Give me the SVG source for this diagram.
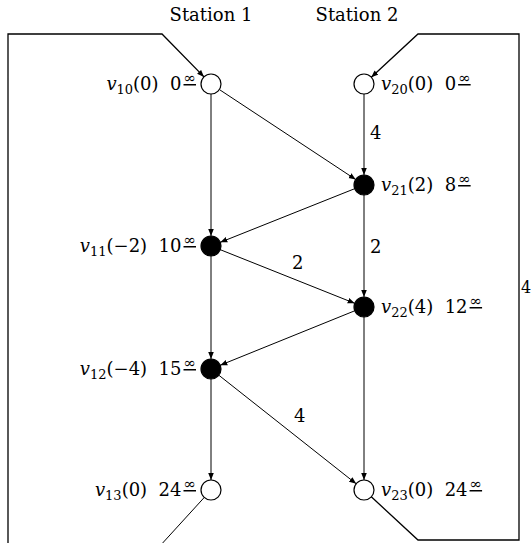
<svg xmlns="http://www.w3.org/2000/svg" width="531" height="543" viewBox="0 0 531 543">
<style>
text{font-family:"DejaVu Serif","Liberation Serif",serif;font-size:18px;fill:#000}
.it{font-style:italic}
.sub{font-size:13px}
.sup{font-size:15px;text-decoration:underline}
.open{fill:#fff;stroke:#000;stroke-width:1.2}
.full{fill:#000;stroke:#000;stroke-width:1.2}
.e{fill:none;stroke:#000;stroke-width:1}
.f{fill:none;stroke:#000;stroke-width:1.3}
</style>
<defs>
<marker id="ah" viewBox="0 0 10 10" refX="10" refY="5" markerWidth="7" markerHeight="7" markerUnits="userSpaceOnUse" orient="auto">
<path d="M0,1 L10,5 L0,9 Z" fill="#000"/>
</marker>
</defs>
<rect width="531" height="543" fill="#fff"/>
<text x="211" y="21" text-anchor="middle">Station 1</text>
<text x="357" y="21" text-anchor="middle">Station 2</text>
<g id="connectors">
<path class="f" d="M8,543 L8,34 L162,34 L204,76.9" marker-end="url(#ah)"/>
<path class="f" d="M371.3,496.8 L418,540 L519,540 L519,34 L418,34 L371.3,77.2" marker-end="url(#ah)"/>
<path class="e" d="M204.3,497.4 L159,547"/>
<path class="e" d="M211,94 L211,236" marker-end="url(#ah)"/>
<path class="e" d="M211,256 L211,359" marker-end="url(#ah)"/>
<path class="e" d="M211,379 L211,480" marker-end="url(#ah)"/>
<path class="e" d="M364,94 L364,175" marker-end="url(#ah)"/>
<path class="e" d="M364,195 L364,297" marker-end="url(#ah)"/>
<path class="e" d="M364,317 L364,480" marker-end="url(#ah)"/>
<path class="e" d="M219.3,89.5 L355.7,179.5" marker-end="url(#ah)"/>
<path class="e" d="M354.7,188.7 L220.3,242.3" marker-end="url(#ah)"/>
<path class="e" d="M220.3,249.7 L354.7,303.3" marker-end="url(#ah)"/>
<path class="e" d="M354.7,310.8 L220.3,365.2" marker-end="url(#ah)"/>
<path class="e" d="M218.8,375.2 L356.2,483.8" marker-end="url(#ah)"/>
<text x="370" y="139">4</text>
<text x="370" y="253">2</text>
<text x="292" y="269">2</text>
<text x="294" y="422">4</text>
<text x="521" y="293" style="font-size:16px">4</text>
</g>
<g id="v10">
<circle class="open" cx="211" cy="84" r="10"/>
<text x="196" y="90" text-anchor="end"><tspan class="it">v</tspan><tspan class="sub" dy="4">10</tspan><tspan dy="-4">(0)&#160;&#160;0</tspan><tspan class="sup" dx="2" dy="-7">∞</tspan></text>
</g>
<g id="v20">
<circle class="open" cx="364" cy="84" r="10"/>
<text x="381" y="90"><tspan class="it">v</tspan><tspan class="sub" dy="4">20</tspan><tspan dy="-4">(0)&#160;&#160;0</tspan><tspan class="sup" dx="2" dy="-7">∞</tspan></text>
</g>
<g id="v21">
<circle class="full" cx="364" cy="185" r="10"/>
<text x="381" y="191"><tspan class="it">v</tspan><tspan class="sub" dy="4">21</tspan><tspan dy="-4">(2)&#160;&#160;8</tspan><tspan class="sup" dx="2" dy="-7">∞</tspan></text>
</g>
<g id="v11">
<circle class="full" cx="211" cy="246" r="10"/>
<text x="196" y="252" text-anchor="end"><tspan class="it">v</tspan><tspan class="sub" dy="4">11</tspan><tspan dy="-4">(−2)&#160;&#160;10</tspan><tspan class="sup" dx="2" dy="-7">∞</tspan></text>
</g>
<g id="v22">
<circle class="full" cx="364" cy="307" r="10"/>
<text x="381" y="313"><tspan class="it">v</tspan><tspan class="sub" dy="4">22</tspan><tspan dy="-4">(4)&#160;&#160;12</tspan><tspan class="sup" dx="2" dy="-7">∞</tspan></text>
</g>
<g id="v12">
<circle class="full" cx="211" cy="369" r="10"/>
<text x="196" y="375" text-anchor="end"><tspan class="it">v</tspan><tspan class="sub" dy="4">12</tspan><tspan dy="-4">(−4)&#160;&#160;15</tspan><tspan class="sup" dx="2" dy="-7">∞</tspan></text>
</g>
<g id="v13">
<circle class="open" cx="211" cy="490" r="10"/>
<text x="196" y="496" text-anchor="end"><tspan class="it">v</tspan><tspan class="sub" dy="4">13</tspan><tspan dy="-4">(0)&#160;&#160;24</tspan><tspan class="sup" dx="2" dy="-7">∞</tspan></text>
</g>
<g id="v23">
<circle class="open" cx="364" cy="490" r="10"/>
<text x="381" y="496"><tspan class="it">v</tspan><tspan class="sub" dy="4">23</tspan><tspan dy="-4">(0)&#160;&#160;24</tspan><tspan class="sup" dx="2" dy="-7">∞</tspan></text>
</g>
</svg>
